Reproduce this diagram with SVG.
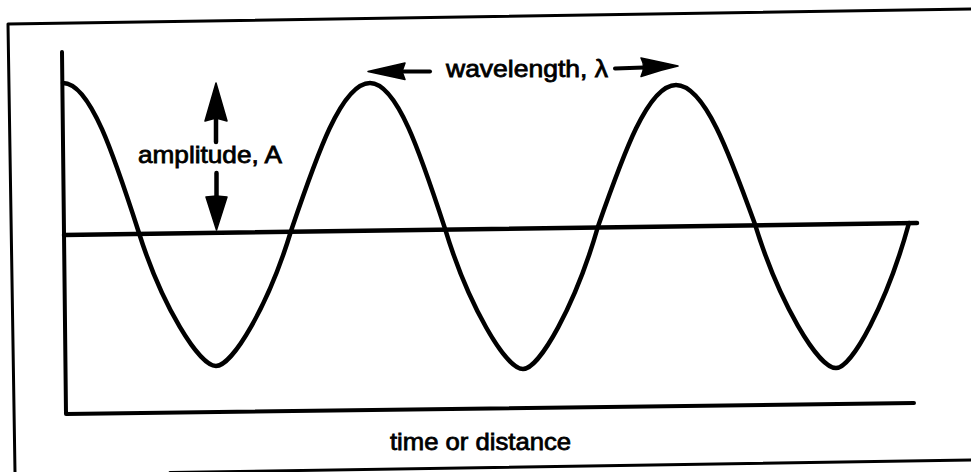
<svg xmlns="http://www.w3.org/2000/svg" width="971" height="472" viewBox="0 0 971 472">
  <style>
    .ln { fill: none; stroke: #000; stroke-linecap: round; stroke-linejoin: round; }
    .frame { stroke-width: 3; }
    .axis { stroke-width: 4; }
    .wave { stroke-width: 4.5; }
    .head { fill: #000; stroke: #000; stroke-width: 1.5; stroke-linejoin: round; }
    .lbl { font-family: "Liberation Sans", Arial, Helvetica, sans-serif; font-size: 24px; fill: #000; stroke: #000; stroke-width: 0.8; }
  </style>
  <rect width="971" height="472" fill="#fff"/>
  <g id="frame">
    <path class="ln frame" d="M8,24 L971,9 M8,24 L15,472 M170,472.5 L971,460"/>
  </g>
  <g id="axes">
    <path class="ln axis" d="M62,52 L66,414 L914,403"/>
  </g>
  <g id="baseline">
    <path class="ln wave" d="M64,235 L917,223"/>
  </g>
  <g id="wave">
    <path class="ln wave" d="M63,83 C90.4,83 114.2,156.2 139,233 C162.1,306.2 199.1,366 216,366 C232.5,366 268.5,305.3 291,231 C316.8,155.2 341.6,83 370,83 C397,83 420.6,154.1 445,228.6 C468.4,305.8 505.8,369 523,369 C539.5,369 575.5,304.9 598,226.5 C623.4,154.1 647.9,85 676,85 C704.4,85 729.2,153 755,224.3 C779.3,303.3 818.2,368 836,368 C852,368 887.1,302.8 909,223"/>
  </g>
  <g id="connectors">
    <g id="amplitude-arrows">
      <path class="ln" stroke-width="4.5" d="M216,118 L216,142"/>
      <polygon class="head" points="216,83 227,121 216,118 205,121"/>
      <path class="ln" stroke-width="4.5" d="M216.5,173 L216.5,199"/>
      <polygon class="head" points="206,197 216.5,196 227,197 216.5,230"/>
    </g>
    <g id="wavelength-arrows">
      <path class="ln" stroke-width="4" d="M401,71.5 L430,71.5"/>
      <polygon class="head" points="368,71.5 405,63 402,71.5 405,79.5"/>
      <path class="ln" stroke-width="4" d="M615,68.5 L644,67.5"/>
      <path class="head" d="M641,58 Q660,62 678,66 Q660,70 641,76.5 Q646,67 641,58 Z"/>
    </g>
  </g>
  <g id="labels">
    <text class="lbl" x="138" y="163" textLength="144" lengthAdjust="spacingAndGlyphs">amplitude, A</text>
    <text class="lbl" x="446" y="77" textLength="162" lengthAdjust="spacingAndGlyphs">wavelength, λ</text>
    <text class="lbl" x="390" y="450" textLength="181" lengthAdjust="spacingAndGlyphs">time or distance</text>
  </g>
</svg>
